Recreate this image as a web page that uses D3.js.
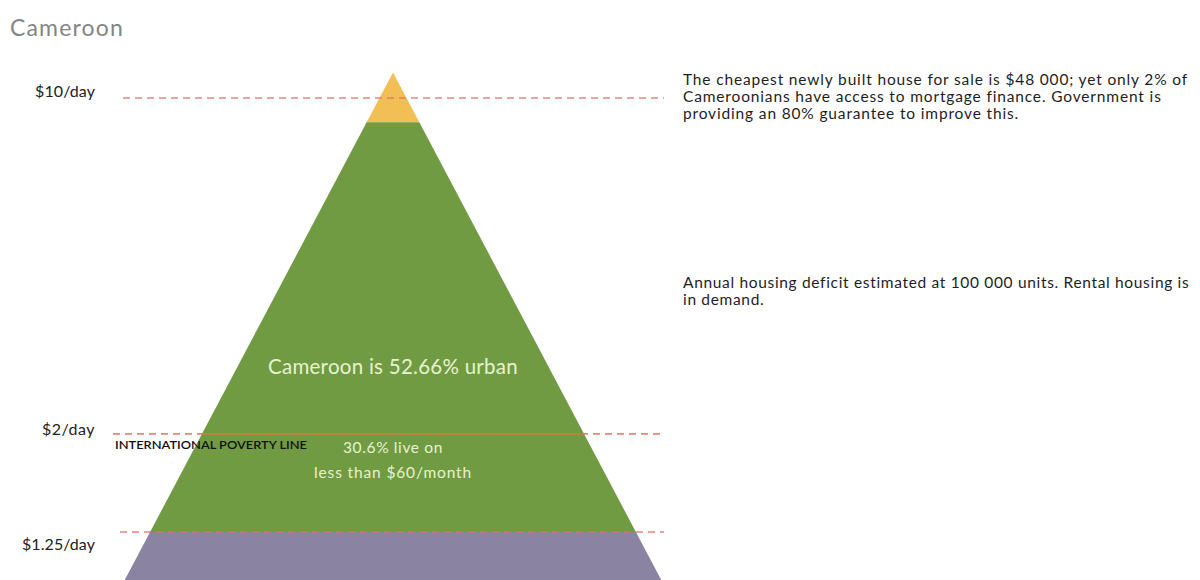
<!DOCTYPE html>
<html>
<head>
<meta charset="utf-8">
<script src="https://cdn.jsdelivr.net/npm/d3@7"></script>
<style>
  html, body { margin: 0; padding: 0; background: #ffffff; }
  svg { display: block; }
  text { font-family: Lato, "Open Sans", sans-serif; }
</style>
</head>
<body>
<svg id="chart" width="1200" height="580"></svg>
<script>
// Income thresholds (US$ per person per day) marked by dashed lines
const incomeLines = [10, 2, 1.25];
const incomeLabels = ["$10/day", "$2/day", "$1.25/day"];

// Pyramid tiers, from the top down, bounded by income levels
const tierNames = ["Above $10/day", "$1.25 to $10/day", "Below $1.25/day"];
const tierTop = [11.3, 8.9, 1.25];
const tierBottom = [8.9, 1.25, 0.9];
const tierColors = ["#f2bf55", "#719b43", "#8a83a2"];

// Annotations
const titleText = "Cameroon";
const urbanText = "Cameroon is 52.66% urban";
const povertyLineText = "INTERNATIONAL POVERTY LINE";
const povertyShareText = ["30.6% live on", "less than $60/month"];
const noteTop = [
  "The cheapest newly built house for sale is $48 000; yet only 2% of",
  "Cameroonians have access to mortgage finance. Government is",
  "providing an 80% guarantee to improve this."
];
const noteBottom = [
  "Annual housing deficit estimated at 100 000 units.  Rental housing is",
  "in demand."
];

const svg = d3.select("#chart");

// Adjust the letter spacing of a text group so that its first line spans `target` px
function fitSpacing(sel, target) {
  const node = sel.nodes()[0];
  const w = node.getComputedTextLength();
  const n = node.textContent.length;
  sel.attr("letter-spacing", ((target - w) / n).toFixed(3));
  return sel;
}

// Vertical position follows a log scale of daily income
const y = d3.scaleLog().domain([10, 1.25]).range([98, 532]);
const cx = 393;
const apexY = y(tierTop[0]);
// Half-width of the pyramid grows linearly with distance below the apex
const halfW = d3.scaleLinear().domain([apexY, apexY + 507]).range([0, 268]);

// Title
fitSpacing(svg.append("text")
  .attr("x", 10).attr("y", 36)
  .attr("font-size", 23)
  .attr("fill", "#858585")
  .text(titleText), 114);

// Pyramid tiers
const tiers = tierNames.map((name, i) => ({name, top: tierTop[i], bottom: tierBottom[i], color: tierColors[i]}));
svg.append("g").selectAll("path")
  .data(tiers)
  .join("path")
  .attr("fill", d => d.color)
  .attr("d", d => {
    const y0 = y(d.top), y1 = y(d.bottom);
    const w0 = halfW(y0), w1 = halfW(y1);
    return d3.line()([[cx - w0, y0], [cx + w0, y0], [cx + w1, y1], [cx - w1, y1]]) + "Z";
  });

// Dashed income lines
const lineStart = [123, 113, 120];
const lineG = svg.append("g");
incomeLines.forEach((v, i) => {
  lineG.append("line")
    .attr("x1", lineStart[i]).attr("x2", 664)
    .attr("y1", y(v)).attr("y2", y(v))
    .attr("stroke", "#e0716a")
    .attr("stroke-opacity", 0.85)
    .attr("stroke-width", 1.6)
    .attr("stroke-dasharray", "7,5");
});
// The poverty line runs solid across the pyramid
{
  const yy = y(2), w = halfW(yy);
  lineG.append("line")
    .attr("x1", cx - w).attr("x2", cx + w)
    .attr("y1", yy).attr("y2", yy)
    .attr("stroke", "#c0823a")
    .attr("stroke-width", 1.6);
}

// Income labels
const labelDy = [-6, -4, 13];
const labelWidth = [60, 53, 73];
svg.append("g").selectAll("text")
  .data(incomeLabels)
  .join("text")
  .attr("x", 95)
  .attr("y", (d, i) => y(incomeLines[i]) + labelDy[i] + 5)
  .attr("text-anchor", "end")
  .attr("font-size", 16)
  .attr("fill", "#222")
  .text(d => d)
  .each(function(d, i) { fitSpacing(d3.select(this), labelWidth[i]); });

svg.append("text")
  .attr("x", 115).attr("y", y(2) + 15)
  .attr("font-size", 10.5)
  .attr("font-weight", 600)
  .attr("fill", "#111")
  .attr("textLength", 192)
  .attr("lengthAdjust", "spacingAndGlyphs")
  .text(povertyLineText);

// Text inside the pyramid
fitSpacing(svg.append("text")
  .attr("x", cx).attr("y", 374)
  .attr("text-anchor", "middle")
  .attr("font-size", 20.5)
  .attr("fill", "#e6f3cf")
  .text(urbanText), 250);

const shareWidth = [100, 158];
svg.append("g").selectAll("text")
  .data(povertyShareText)
  .join("text")
  .attr("x", cx).attr("y", (d, i) => 453 + i * 25)
  .attr("text-anchor", "middle")
  .attr("font-size", 15.5)
  .attr("fill", "#e6f3cf")
  .text(d => d)
  .each(function(d, i) { fitSpacing(d3.select(this), shareWidth[i]); });

// Notes on the right
function note(lines, x, y0, lh, target) {
  const t = svg.append("g").selectAll("text").data(lines).join("text")
    .attr("x", x).attr("y", (d, i) => y0 + i * lh)
    .attr("font-size", 15.5)
    .attr("fill", "#1e1e1e")
    .text(d => d);
  fitSpacing(t, target);
}
note(noteTop, 683, 85, 17, 505);
note(noteBottom, 683, 288, 17, 507);
</script>
</body>
</html>
